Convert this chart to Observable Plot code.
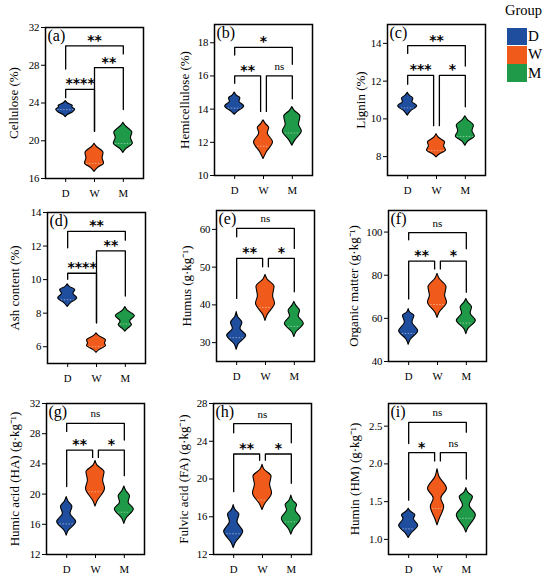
<!DOCTYPE html>
<html><head><meta charset="utf-8">
<script src="https://cdn.jsdelivr.net/npm/d3@7"></script>
<script src="https://cdn.jsdelivr.net/npm/@observablehq/plot@0.6"></script>
<style>
body{margin:0;background:#fff;}
#root{position:relative;width:550px;height:578px;overflow:hidden;background:#fff;font-family:"Liberation Serif","Times New Roman",serif;color:#000;}
.panel{position:absolute;}
.lg{position:absolute;line-height:1;white-space:nowrap;}
.sw{position:absolute;width:19.5px;height:17.6px;}
</style></head><body><div id="root"></div>
<script>
// ---------- data ----------
const groups = ["D", "W", "M"];
const groupColors = ["#1f4e9e", "#f05a1a", "#1e9a48"];
const panelLetters = ["a", "b", "c", "d", "e", "f", "g", "h", "i"];
const yLabels = [
  "Cellulose (%)", "Hemicellulose (%)", "Lignin (%)",
  "Ash content (%)", "Humus (g·kg⁻¹)", "Organic matter (g·kg⁻¹)",
  "Humic acid (HA) (g·kg⁻¹)", "Fulvic acid (FA) (g·kg⁻¹)", "Humin (HM) (g·kg⁻¹)"
];
const yDomains = [[16, 32], [10, 19.1], [7, 15], [5, 14], [25, 65], [40, 110], [12, 32], [12, 28], [0.8, 2.8]];
const yTicks = [
  [16, 20, 24, 28, 32], [10, 12, 14, 16, 18], [8, 10, 12, 14],
  [6, 8, 10, 12, 14], [30, 40, 50, 60], [40, 60, 80, 100],
  [12, 16, 20, 24, 28, 32], [12, 16, 20, 24, 28], [1.0, 1.5, 2.0, 2.5]
];
// violin outlines: [value, relative half-width], per group D, W, M
const violinProfiles = [
  [ [[24.2,0],[23.95,0.25],[23.7,0.75],[23.55,0.7],[23.3,1.0],[23.0,0.75],[22.75,0.25],[22.5,0]],
    [[19.68,0],[19.4,0.2],[18.7,0.95],[18.15,0.85],[17.6,1.0],[17.1,0.35],[16.7,0]],
    [[21.9,0],[21.6,0.2],[20.85,0.95],[20.3,0.8],[19.7,1.0],[19.1,0.3],[18.7,0]] ],
  [ [[15.0,0],[14.8,0.25],[14.66,0.6],[14.45,0.5],[14.16,1.0],[13.85,0.35],[13.66,0]],
    [[13.32,0],[13.1,0.25],[12.86,0.6],[12.55,0.45],[12.0,1.0],[11.4,0.35],[11.0,0]],
    [[14.12,0],[13.9,0.25],[13.56,0.85],[13.06,0.7],[12.66,1.0],[12.1,0.3],[11.8,0]] ],
  [ [[11.38,0],[11.22,0.25],[11.08,0.6],[10.9,0.5],[10.67,1.0],[10.4,0.35],[10.17,0]],
    [[9.19,0],[9.0,0.25],[8.75,0.9],[8.55,0.8],[8.32,1.0],[8.1,0.3],[7.96,0]],
    [[10.14,0],[9.95,0.25],[9.64,0.9],[9.35,0.75],[9.07,1.0],[8.8,0.3],[8.57,0]] ],
  [ [[9.72,0],[9.55,0.25],[9.38,0.8],[9.15,0.6],[8.89,1.0],[8.6,0.35],[8.37,0]],
    [[6.8,0],[6.65,0.25],[6.38,1.0],[6.2,0.9],[6.04,1.0],[5.8,0.3],[5.64,0]],
    [[8.37,0],[8.15,0.25],[7.83,1.0],[7.5,0.5],[7.29,0.7],[7.05,0.25],[6.9,0]] ],
  [ [[38.1,0],[36.8,0.15],[35.2,0.6],[33.7,0.4],[31.8,1.0],[29.5,0.2],[28.1,0]],
    [[47.9,0],[46.8,0.2],[44.8,0.95],[42.3,0.8],[40.35,1.0],[37.2,0.2],[35.75,0]],
    [[40.8,0],[39.8,0.2],[38.4,0.6],[37.0,0.45],[35.0,1.0],[32.7,0.2],[31.5,0]] ],
  [ [[64.3,0],[62.5,0.2],[61.2,0.6],[58.1,0.4],[54.0,1.0],[50,0.2],[47.75,0]],
    [[80.6,0],[78.5,0.2],[74.4,0.95],[70.5,0.8],[67.4,1.0],[62.5,0.2],[60.2,0]],
    [[69,0],[67.3,0.2],[65.1,0.6],[62.3,0.45],[58.9,1.0],[55,0.2],[52.7,0]] ],
  [ [[19.6,0],[19.0,0.2],[18.3,0.6],[17.4,0.4],[16.3,1.0],[15.1,0.2],[14.5,0]],
    [[24.4,0],[23.8,0.2],[22.9,0.95],[21.8,0.8],[20.7,1.0],[19.0,0.2],[18.35,0]],
    [[21,0],[20.4,0.2],[19.7,0.6],[18.9,0.45],[18.0,1.0],[16.7,0.2],[16.05,0]] ],
  [ [[17.24,0],[16.7,0.2],[16.24,0.6],[15.45,0.4],[14.4,1.0],[13.2,0.2],[12.68,0]],
    [[21.5,0],[21.0,0.2],[20.27,0.95],[19.4,0.8],[18.5,1.0],[17.2,0.2],[16.7,0]],
    [[18.24,0],[17.7,0.2],[17.24,0.6],[16.7,0.45],[15.8,1.0],[14.6,0.2],[14.1,0]] ],
  [ [[1.407,0],[1.37,0.2],[1.32,0.7],[1.27,0.55],[1.18,1.0],[1.07,0.25],[1.018,0]],
    [[1.93,0],[1.83,0.2],[1.67,1.0],[1.54,0.4],[1.43,0.7],[1.26,0.2],[1.186,0]],
    [[1.68,0],[1.62,0.2],[1.56,0.7],[1.45,0.35],[1.32,1.0],[1.15,0.2],[1.09,0]] ]
];
const medians = [
  [23.3, 17.6, 19.7], [14.06, 11.76, 12.56], [10.58, 8.32, 9.07],
  [8.8, 6.0, 7.35], [31.3, 39.3, 34.3], [53.0, 66.4, 57.8],
  [16.05, 20.3, 17.6], [14.2, 17.77, 15.46], [1.14, 1.41, 1.28]
];
// significance brackets: [group A, group B, bracket top, leg end at A, leg end at B, label]
const brackets = [
  [[0,2,30.06,27.6,29.2,"**"], [1,2,27.75,21.0,23.3,"**"], [0,1,25.45,24.56,21.0,"****"]],
  [[0,2,17.72,17.26,16.7,"*"], [0,1,16.0,15.56,13.86,"**"], [1,2,16.0,13.86,14.62,"ns"]],
  [[0,2,13.88,13.47,12.8,"**"], [0,1,12.3,11.83,9.64,"***"], [1,2,12.3,9.64,10.64,"*"]],
  [[0,2,12.87,11.9,12.35,"**"], [1,2,11.71,7.43,9.02,"**"], [0,1,10.38,10.02,7.43,"****"]],
  [[0,2,60.27,58.05,54.96,"ns"], [0,1,52.3,41.7,50.1,"**"], [1,2,52.3,50.1,43.45,"*"]],
  [[0,2,99.7,96.4,92.25,"ns"], [0,1,86.5,69,82.9,"**"], [1,2,86.5,82.9,72.1,"*"]],
  [[0,2,29.36,28.3,27.15,"ns"], [0,1,25.83,21,24.86,"**"], [1,2,25.83,24.86,22.44,"*"]],
  [[0,2,25.86,24.9,23.83,"ns"], [0,1,22.65,18.66,21.98,"**"], [1,2,22.65,21.98,19.55,"*"]],
  [[0,2,2.55,2.27,2.42,"ns"], [0,1,2.15,1.52,2.04,"*"], [1,2,2.15,2.04,1.8,"ns"]]
];

// ---------- layout ----------
const frameLefts = [45, 213.5, 387, 46.5, 215.5, 387.5, 45.5, 212.5, 387.5];
const frameTops = [26.7, 24.3, 24.3, 211.7, 210, 210, 402.7, 402.7, 402.7];
const labelOffsets = [32, 30, 27, 33, 30, 35, 32, 29.5, 34];
const HW = 0.33, DELTA = 0.1;
const ML = 45, MR = 5, MT = 5, MB = 25, FW = 98, FH = 151;

function widthAt(prof, m) {
  for (let k = 0; k < prof.length - 1; k++) {
    const [v0, w0] = prof[k], [v1, w1] = prof[k + 1];
    if ((m <= v0 && m >= v1)) return w0 + (w1 - w0) * (v0 - m) / (v0 - v1);
  }
  return 0.5;
}

const root = document.getElementById("root");
for (let p = 0; p < 9; p++) {
  const vrows = [];
  violinProfiles[p].forEach((prof, i) => prof.forEach(([v, w]) => vrows.push({g: groups[i], i, v, w})));
  const medRows = medians[p].map((m, i) => ({g: groups[i], i, v: m, w: widthAt(violinProfiles[p][i], m) * 0.85}));
  const br = brackets[p];
  const pts = [], labs = [];
  br.forEach(([a, b, top, l1, l2, lab], k) => {
    const same = br.some((o, j) => j !== k && o[2] === top);
    let xa = a + 1, xb = b + 1;
    if (same && b - a === 1) { if (a === 0) xb -= DELTA; else xa += DELTA; }
    pts.push({k, x: xa, y: l1}, {k, x: xa, y: top}, {k, x: xb, y: top}, {k, x: xb, y: l2});
    labs.push({x: (xa + xb) / 2, y: top, t: lab});
  });
  const chart = Plot.plot({
    width: ML + FW + MR, height: MT + FH + MB,
    marginLeft: ML, marginRight: MR, marginTop: MT, marginBottom: MB,
    style: {fontFamily: "Liberation Serif", fontSize: "10.8px", color: "black", background: "transparent", overflow: "visible"},
    x: {domain: [0.3, 3.7], ticks: [1, 2, 3], tickFormat: d => groups[d - 1], tickSize: 4, tickPadding: 7, label: null},
    y: {domain: yDomains[p], ticks: yTicks[p], tickSize: 4, tickPadding: 2, label: null,
        tickFormat: p === 8 ? d3.format(".1f") : d3.format("d")},
    color: {domain: groups, range: groupColors},
    marks: [
      Plot.areaX(vrows, {y: "v", x1: d => d.i + 1 - d.w * HW, x2: d => d.i + 1 + d.w * HW, z: "g", fill: "g",
        stroke: "black", strokeWidth: 1.1, curve: "monotone-y"}),
      Plot.ruleY(medRows, {y: "v", x1: d => d.i + 1 - d.w * HW, x2: d => d.i + 1 + d.w * HW,
        stroke: "white", strokeOpacity: 0.6, strokeWidth: 0.8, strokeDasharray: "1.5,1.5"}),
      Plot.line(pts, {x: "x", y: "y", z: "k", stroke: "black", strokeWidth: 1.3}),
      Plot.text(labs.filter(d => d.t !== "ns"), {x: "x", y: "y", text: "t", fontFamily: "DejaVu Sans",
        fontWeight: "bold", fontSize: 14, lineAnchor: "bottom", dy: -1}),
      Plot.text(labs.filter(d => d.t === "ns"), {x: "x", y: "y", text: "t", fontSize: 11, lineAnchor: "bottom", dy: -6}),
      Plot.text([`(${panelLetters[p]})`], {frameAnchor: "top-left", text: d => d, dx: 2, dy: 2, fontSize: 16,
        lineAnchor: "top", textAnchor: "start"}),
      Plot.text([yLabels[p]], {frameAnchor: "left", text: d => d, rotate: -90, dx: -labelOffsets[p], fontSize: 13,
        textAnchor: "middle", lineAnchor: "middle"}),
      Plot.frame({stroke: "black", strokeWidth: 1.5})
    ]
  });
  chart.classList.add("panel");
  chart.style.left = (frameLefts[p] - ML) + "px";
  chart.style.top = (frameTops[p] - MT) + "px";
  root.appendChild(chart);
}

// legend
const title = document.createElement("div");
title.className = "lg"; title.textContent = "Group";
title.style.cssText += "left:505px;top:3px;font-size:14.5px;";
root.appendChild(title);
const swTops = [27.7, 46, 64.3];
groups.forEach((g, i) => {
  const s = document.createElement("div");
  s.className = "sw"; s.style.left = "507px"; s.style.top = swTops[i] + "px"; s.style.background = groupColors[i];
  root.appendChild(s);
  const t = document.createElement("div");
  t.className = "lg"; t.textContent = g;
  t.style.cssText += `left:528px;top:${swTops[i] + 8.8 - 7.6}px;font-size:15px;`;
  root.appendChild(t);
});
</script></body></html>
